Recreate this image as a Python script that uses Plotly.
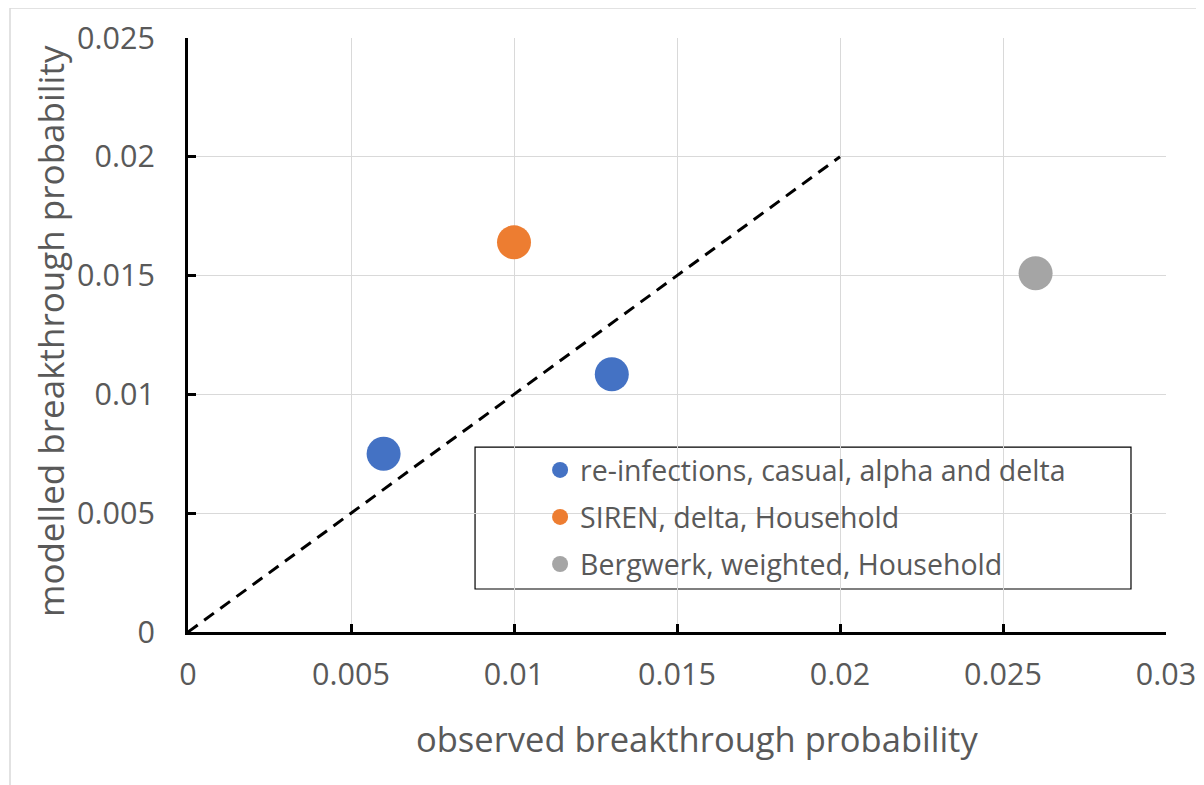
import plotly.graph_objects as go

series_names = ["re-infections, casual, alpha and delta", "SIREN, delta, Household", "Bergwerk, weighted, Household"]
series_x = [[0.006, 0.013], [0.010], [0.026]]
series_y = [[0.0075, 0.01085], [0.0164], [0.0151]]
series_colors = ["#4472C4", "#ED7D31", "#A5A5A5"]
diag_x = [0.0, 0.02]
diag_y = [0.0, 0.02]
x_ticks = [0, 0.005, 0.01, 0.015, 0.02, 0.025, 0.03]
x_tick_labels = ["0", "0.005", "0.01", "0.015", "0.02", "0.025", "0.03"]
y_ticks = [0, 0.005, 0.01, 0.015, 0.02, 0.025]
y_tick_labels = ["0", "0.005", "0.01", "0.015", "0.02", "0.025"]
x_title = "observed breakthrough probability"
y_title = "modelled breakthrough probability"

FONT = "Open Sans"
TXT = "#595959"

fig = go.Figure()
fig.add_trace(go.Scatter(x=diag_x, y=diag_y, mode="lines", showlegend=False,
                         line=dict(color="black", width=3, dash="12px,8px"), hoverinfo="skip"))
for i, (n, xs, ys, c) in enumerate(zip(series_names, series_x, series_y, series_colors)):
    fig.add_trace(go.Scatter(x=xs, y=ys, mode="markers", name=n, legendgroup=f"g{i}",
                             marker=dict(color=c, size=34, line=dict(width=0))))

fig.update_layout(
    width=1204, height=785,
    margin=dict(l=180, r=46, t=30, b=161),
    paper_bgcolor="white", plot_bgcolor="white",
    font=dict(family=FONT, color=TXT, size=24),
    legend=dict(x=0.36, y=0.315, xanchor="left", yanchor="top",
                bgcolor="rgba(0,0,0,0)", borderwidth=0, tracegroupgap=7,
                font=dict(family=FONT, size=28.5, color=TXT)),
    shapes=[
        dict(type="rect", xref="paper", yref="paper", x0=0.2935, x1=0.9642, y0=0.0724, y1=0.3114,
             line=dict(color="black", width=1.2), fillcolor="white", layer="below"),
        dict(type="rect", xref="paper", yref="paper", x0=-0.182, x1=1.1, y0=-0.5, y1=1.0505,
             line=dict(color="#d9d9d9", width=1.5), layer="below"),
    ],
    annotations=[
        dict(text=x_title, xref="paper", yref="paper", x=0.5204, y=-0.1785,
             xanchor="center", yanchor="middle", showarrow=False,
             font=dict(family=FONT, size=34.5, color=TXT)),
        dict(text=y_title, xref="paper", yref="paper", x=-0.1411, y=0.5067, textangle=-90,
             xanchor="center", yanchor="middle", showarrow=False,
             font=dict(family=FONT, size=35, color=TXT)),
    ],
)
fig.update_xaxes(range=[0, 0.03], tickvals=x_ticks, ticktext=x_tick_labels, automargin=False,
                 showline=True, linecolor="black", linewidth=3,
                 ticks="inside", ticklen=8, tickwidth=3, tickcolor="black",
                 showgrid=True, gridcolor="#d9d9d9", gridwidth=1, zeroline=False,
                 tickfont=dict(size=30.5, color=TXT), ticklabelstandoff=13)
fig.update_yaxes(range=[0, 0.025], tickvals=y_ticks, ticktext=y_tick_labels, automargin=False,
                 showline=True, linecolor="black", linewidth=3,
                 ticks="inside", ticklen=8, tickwidth=3, tickcolor="black",
                 showgrid=True, gridcolor="#d9d9d9", gridwidth=1, zeroline=False,
                 tickfont=dict(size=30.5, color=TXT), ticklabelstandoff=24)

fig.write_html("out.html")
